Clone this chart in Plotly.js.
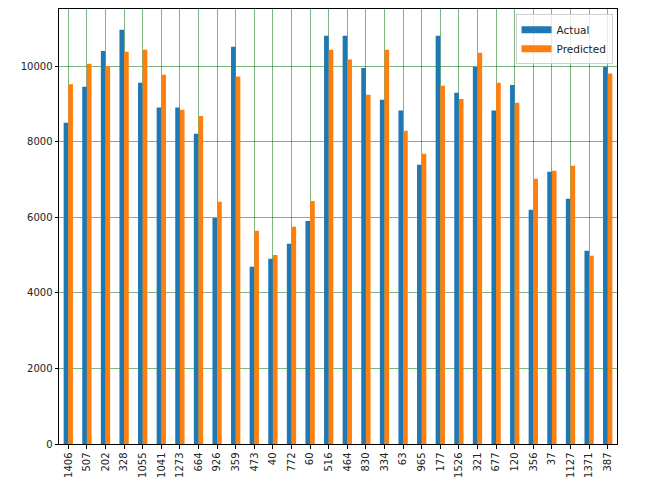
<!DOCTYPE html>
<html>
<head>
<meta charset="utf-8">
<script src="https://cdn.plot.ly/plotly-3.0.1.min.js"></script>
<style>
html,body{margin:0;padding:0;background:#fff;}
#chart{width:647px;height:489px;}
</style>
</head>
<body>
<div id="chart"></div>
<script>
const categories = ["1406","507","202","328","1055","1041","1273","664","926","359","473","40","772","60","516","464","830","334","63","965","177","1526","321","677","120","356","37","1127","1371","387"];
const actual = [8500,9450,10400,10960,9560,8900,8900,8210,5980,10510,4690,4900,5300,5900,10800,10800,9950,9110,8820,7390,10800,9290,9980,8820,9500,6200,7200,6490,5110,9980];
const predicted = [9520,10060,10000,10380,10430,9770,8840,8680,6410,9720,5640,5000,5750,6430,10430,10170,9240,10430,8290,7680,9480,9130,10350,9560,9030,7020,7230,7360,4980,9800];
const yTicks = [0,2000,4000,6000,8000,10000];
const seriesNames = ["Actual","Predicted"];
const seriesColors = ["#1f77b4","#ff7f0e"];

const font = {family: "DejaVu Sans, sans-serif", size: 10, color: "#222"};

const traces = [
  {type: "bar", name: seriesNames[0], x: categories, y: actual, marker: {color: seriesColors[0], line: {width: 0}}, showlegend: false},
  {type: "bar", name: seriesNames[1], x: categories, y: predicted, marker: {color: seriesColors[1], line: {width: 0}}, showlegend: false},
  // legend-only entries with wide rectangular swatches
  {type: "scatter", mode: "lines", name: seriesNames[0], x: [categories[0]], y: [null], line: {color: seriesColors[0], width: 7}, showlegend: true, hoverinfo: "skip"},
  {type: "scatter", mode: "lines", name: seriesNames[1], x: [categories[0]], y: [null], line: {color: seriesColors[1], width: 7}, showlegend: true, hoverinfo: "skip"}
];

const layout = {
  width: 647, height: 489,
  margin: {l: 59, r: 30, t: 9, b: 45, pad: 0},
  paper_bgcolor: "#fff", plot_bgcolor: "#fff",
  barmode: "group", bargap: 0.5, bargroupgap: 0,
  font: font,
  showlegend: true,
  legend: {x: 0.992, y: 0.988, xanchor: "right", yanchor: "top", bgcolor: "rgba(255,255,255,0.8)",
           bordercolor: "#d0d0d0", borderwidth: 1, font: {family: "DejaVu Sans, sans-serif", size: 10.5, color: "#222"},
           tracegroupgap: 0, itemwidth: 30},
  xaxis: {type: "category", range: [-0.5, 29.5], tickangle: -90, tickfont: font,
          showgrid: true, gridcolor: "rgba(0,110,0,0.5)", gridwidth: 1,
          showline: true, linecolor: "#000", linewidth: 1, mirror: true,
          ticks: "outside", ticklen: 3.5, tickcolor: "#000", layer: "above traces", zeroline: false},
  yaxis: {range: [0, 11508], tickvals: yTicks, ticktext: yTicks.map(String), tickfont: font,
          showgrid: true, gridcolor: "rgba(0,110,0,0.5)", gridwidth: 1,
          showline: true, linecolor: "#000", linewidth: 1, mirror: true,
          ticks: "outside", ticklen: 3.5, tickcolor: "#000", layer: "above traces", zeroline: false}
};

Plotly.newPlot("chart", traces, layout, {displayModeBar: false, staticPlot: true});
</script>
</body>
</html>
